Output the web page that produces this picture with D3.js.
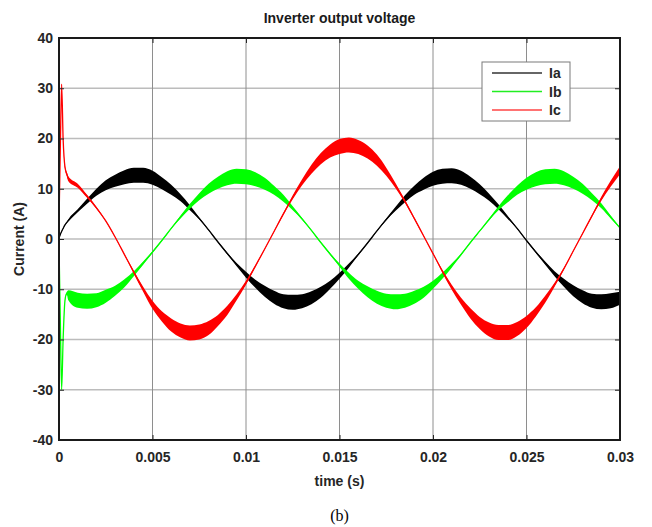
<!DOCTYPE html>
<html lang="en">
<head>
<meta charset="utf-8">
<title>Inverter output voltage</title>
<script src="https://cdnjs.cloudflare.com/ajax/libs/d3/7.8.5/d3.min.js"></script>
<style>
  body { margin: 0; background: #fff; }
  svg { display: block; font-family: "Liberation Sans", Arial, sans-serif; }
  .tick text { font-size: 14px; font-weight: bold; fill: #262626; }
</style>
</head>
<body>
<svg id="chart" width="652" height="527"></svg>
<script>
// sample times (s), with a few extra points for the start-up spike
var time = [0, 0.00007, 0.00014, 0.00022, 0.00032, 0.00042,
  0.0005, 0.001, 0.0015, 0.002, 0.0025, 0.003, 0.0035, 0.004, 0.0045, 0.005,
  0.0055, 0.006, 0.0065, 0.007, 0.0075, 0.008, 0.0085, 0.009, 0.0095, 0.01,
  0.0105, 0.011, 0.0115, 0.012, 0.0125, 0.013, 0.0135, 0.014, 0.0145, 0.015,
  0.0155, 0.016, 0.0165, 0.017, 0.0175, 0.018, 0.0185, 0.019, 0.0195, 0.02,
  0.0205, 0.021, 0.0215, 0.022, 0.0225, 0.023, 0.0235, 0.024, 0.0245, 0.025,
  0.0255, 0.026, 0.0265, 0.027, 0.0275, 0.028, 0.0285, 0.029, 0.0295, 0.03];

// centre of each trace (A)
var ia = [0.2, 0.9, 1.5, 2.1, 2.8, 3.3,
  3.7, 5.6, 7.5, 9.3, 10.7, 11.6, 12.3, 12.7, 12.7, 12.2,
  11.1, 9.8, 8.2, 6.2, 4.1, 1.8, -0.6, -2.9, -5.1, -7.1,
  -8.9, -10.4, -11.6, -12.4, -12.6, -12.4, -11.7, -10.6, -9.1, -7.3,
  -5.3, -3.1, -0.8, 1.6, 3.9, 6.0, 8.0, 9.7, 11.0, 12.0,
  12.5, 12.6, 12.2, 11.2, 9.9, 8.3, 6.4, 4.3, 2.1, -0.3,
  -2.6, -4.8, -6.9, -8.7, -10.3, -11.5, -12.3, -12.5, -12.3, -11.8];
var ib = [-1.3, -16, -30, -20, -12.2, -10.8,
  -11.2, -12.2, -12.4, -12.2, -11.4, -10.3, -8.8, -6.9, -4.8, -2.6,
  -0.3, 2.1, 4.4, 6.5, 8.4, 10.0, 11.2, 12.1, 12.5, 12.4,
  11.9, 11.0, 9.7, 8.1, 6.1, 4.0, 1.7, -0.7, -3.0, -5.2,
  -7.3, -9.1, -10.5, -11.6, -12.3, -12.5, -12.3, -11.6, -10.6, -9.1,
  -7.3, -5.3, -3.1, -0.7, 1.6, 3.9, 6.1, 8.0, 9.7, 11.0,
  11.9, 12.4, 12.5, 12.1, 11.2, 10.0, 8.4, 6.6, 4.4, 2.2];
var ic = [3.3, 18, 30.8, 20, 14.3, 12.9,
  12.0, 10.6, 8.5, 6.2, 3.6, 0.4, -3.1, -6.6, -10.0, -13.1,
  -15.4, -17.1, -18.2, -18.7, -18.5, -17.7, -16.2, -14.2, -11.6, -8.7,
  -5.4, -2.0, 1.5, 5.0, 8.3, 11.3, 13.9, 16.0, 17.5, 18.4,
  18.7, 18.3, 17.3, 15.7, 13.4, 10.6, 7.5, 4.1, 0.6, -2.9,
  -6.4, -9.6, -12.4, -14.8, -16.7, -18.0, -18.6, -18.6, -17.9, -16.5,
  -14.5, -12.0, -9.1, -5.9, -2.4, 1.1, 4.6, 8.0, 11.0, 13.7];

// half-width of the switching ripple band around each trace (A)
var iaRipple = [0.1, 0.1, 0.1, 0.1, 0.1, 0.1,
  0.2, 0.3, 0.5, 0.7, 1.0, 1.2, 1.4, 1.5, 1.5, 1.4,
  1.2, 1.0, 0.7, 0.5, 0.2, 0.1, 0.1, 0.2, 0.3, 0.6,
  0.8, 1.1, 1.3, 1.4, 1.5, 1.4, 1.3, 1.1, 0.8, 0.6,
  0.4, 0.2, 0.1, 0.1, 0.2, 0.4, 0.7, 0.9, 1.2, 1.4,
  1.5, 1.5, 1.4, 1.2, 1.0, 0.7, 0.5, 0.3, 0.1, 0.1,
  0.2, 0.3, 0.5, 0.8, 1.1, 1.3, 1.4, 1.5, 1.5, 1.3];
var ibRipple = [0.1, 0.1, 0.1, 0.1, 0.1, 0.3,
  1.0, 1.5, 1.5, 1.4, 1.3, 1.0, 0.8, 0.5, 0.3, 0.2,
  0.1, 0.1, 0.3, 0.5, 0.7, 1.0, 1.2, 1.4, 1.5, 1.5,
  1.4, 1.2, 0.9, 0.7, 0.4, 0.2, 0.1, 0.1, 0.2, 0.3,
  0.6, 0.8, 1.1, 1.3, 1.4, 1.5, 1.4, 1.3, 1.1, 0.8,
  0.6, 0.4, 0.2, 0.1, 0.1, 0.2, 0.4, 0.7, 0.9, 1.2,
  1.4, 1.5, 1.5, 1.4, 1.2, 1.0, 0.7, 0.5, 0.3, 0.1];
var icRipple = [0.1, 0.1, 0.1, 0.1, 0.3, 0.4,
  0.5, 0.4, 0.3, 0.2, 0.1, 0.1, 0.1, 0.3, 0.5, 0.8,
  1.0, 1.3, 1.4, 1.5, 1.5, 1.4, 1.1, 0.9, 0.6, 0.4,
  0.2, 0.1, 0.1, 0.2, 0.4, 0.6, 0.9, 1.1, 1.3, 1.5,
  1.5, 1.4, 1.3, 1.1, 0.8, 0.5, 0.3, 0.2, 0.1, 0.1,
  0.3, 0.5, 0.7, 1.0, 1.2, 1.4, 1.5, 1.5, 1.4, 1.2,
  0.9, 0.7, 0.4, 0.2, 0.1, 0.1, 0.2, 0.4, 0.6, 0.8];

var seriesNames = ["Ia", "Ib", "Ic"];
var seriesColors = ["#000000", "#00ff00", "#ff0000"];
var legendColors = ["#333333", "#22ee22", "#ff4444"];
var xTicks = [0, 0.005, 0.01, 0.015, 0.02, 0.025, 0.03];
var yTicks = [-40, -30, -20, -10, 0, 10, 20, 30, 40];

var svg = d3.select("#chart");
var plotL = 59, plotT = 38, plotR = 620, plotB = 440;

var x = d3.scaleLinear().domain([0, 0.03]).range([plotL, plotR]);
var y = d3.scaleLinear().domain([-40, 40]).range([plotB, plotT]);

// grid
svg.append("g").selectAll("line").data(yTicks.slice(1, -1)).enter().append("line")
  .attr("x1", plotL).attr("x2", plotR)
  .attr("y1", function(d) { return y(d); }).attr("y2", function(d) { return y(d); })
  .attr("stroke", "#bcbcbc").attr("stroke-width", 1.5);
svg.append("g").selectAll("line").data(xTicks.slice(1, -1)).enter().append("line")
  .attr("y1", plotT).attr("y2", plotB)
  .attr("x1", function(d) { return x(d); }).attr("x2", function(d) { return x(d); })
  .attr("stroke", "#8e8e8e").attr("stroke-width", 1);

svg.append("clipPath").attr("id", "plotclip").append("rect")
  .attr("x", plotL).attr("y", plotT).attr("width", plotR - plotL).attr("height", plotB - plotT);

var traces = [
  { values: ia, ripple: iaRipple },
  { values: ib, ripple: ibRipple },
  { values: ic, ripple: icRipple }
];

var plot = svg.append("g").attr("clip-path", "url(#plotclip)");

traces.forEach(function(tr, s) {
  var pts = time.map(function(t, i) { return { t: t, v: tr.values[i], r: tr.ripple[i] }; });
  var band = d3.area()
    .curve(d3.curveMonotoneX)
    .x(function(d) { return x(d.t); })
    .y0(function(d) { return y(d.v - d.r); })
    .y1(function(d) { return y(d.v + d.r); });
  var line = d3.line()
    .curve(d3.curveMonotoneX)
    .x(function(d) { return x(d.t); })
    .y(function(d) { return y(d.v); });
  plot.append("path").datum(pts).attr("d", band)
    .attr("fill", seriesColors[s]);
  plot.append("path").datum(pts).attr("d", line)
    .attr("fill", "none").attr("stroke", seriesColors[s]).attr("stroke-width", 1.3);
});

// axes (ticks inside, box all round)
var xAxis = d3.axisBottom(x).tickValues(xTicks).tickFormat(function(d) { return String(d); })
  .tickSizeInner(-5).tickSizeOuter(0).tickPadding(12);
var yAxis = d3.axisLeft(y).tickValues(yTicks).tickFormat(function(d) { return String(d); })
  .tickSizeInner(-5).tickSizeOuter(0).tickPadding(6);

svg.append("g").attr("transform", "translate(0," + plotB + ")").call(xAxis);
svg.append("g").attr("transform", "translate(" + plotL + ",0)").call(yAxis);
svg.append("g").attr("transform", "translate(0," + plotT + ")")
  .call(d3.axisTop(x).tickValues(xTicks).tickSizeInner(-5).tickSizeOuter(0).tickFormat(""));
svg.append("g").attr("transform", "translate(" + plotR + ",0)")
  .call(d3.axisRight(y).tickValues(yTicks).tickSizeInner(-5).tickSizeOuter(0).tickFormat(""));
svg.selectAll(".domain").remove();
svg.selectAll(".tick line").attr("stroke", "#262626").attr("stroke-width", 1);

svg.append("rect")
  .attr("x", plotL).attr("y", plotT).attr("width", plotR - plotL).attr("height", plotB - plotT)
  .attr("fill", "none").attr("stroke", "#1a1a1a").attr("stroke-width", 2);

// legend
var legend = svg.append("g");
legend.append("rect")
  .attr("x", 482).attr("y", 62).attr("width", 88).attr("height", 59)
  .attr("fill", "#fff").attr("stroke", "#7a7a7a").attr("stroke-width", 1);
seriesNames.forEach(function(name, i) {
  var ly = 73 + i * 18.5;
  legend.append("line")
    .attr("x1", 492).attr("x2", 542).attr("y1", ly).attr("y2", ly)
    .attr("stroke", legendColors[i]).attr("stroke-width", 1.5);
  legend.append("text")
    .attr("x", 549).attr("y", ly + 5)
    .attr("font-size", 14).attr("font-weight", "bold").attr("fill", "#262626")
    .text(name);
});

// titles
svg.append("text")
  .attr("x", (plotL + plotR) / 2).attr("y", 23)
  .attr("text-anchor", "middle").attr("font-size", 14).attr("font-weight", "bold")
  .attr("fill", "#1a1a1a")
  .text("Inverter output voltage");
svg.append("text")
  .attr("x", (plotL + plotR) / 2).attr("y", 486)
  .attr("text-anchor", "middle").attr("font-size", 14).attr("font-weight", "bold")
  .attr("fill", "#262626")
  .text("time (s)");
svg.append("text")
  .attr("transform", "translate(24," + ((plotT + plotB) / 2) + ") rotate(-90)")
  .attr("text-anchor", "middle").attr("font-size", 14).attr("font-weight", "bold")
  .attr("fill", "#262626")
  .text("Current (A)");
svg.append("text")
  .attr("x", (plotL + plotR) / 2).attr("y", 521)
  .attr("text-anchor", "middle").attr("font-size", 16)
  .attr("font-family", "'Liberation Serif', 'Times New Roman', serif")
  .attr("fill", "#000")
  .text("(b)");
</script>
</body>
</html>
